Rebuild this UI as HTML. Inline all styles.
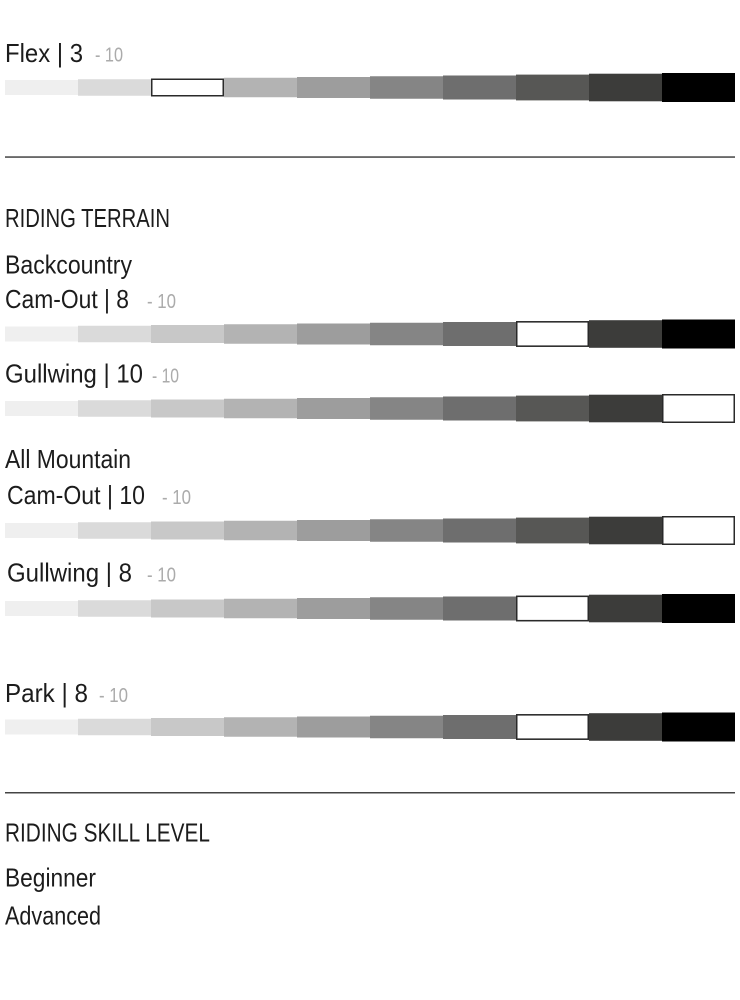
<!DOCTYPE html>
<html>
<head>
<meta charset="utf-8">
<style>
html,body{margin:0;padding:0;background:#fff;}
svg{display:block;}
text{font-family:"Liberation Sans",sans-serif;}
.t{font-size:26px;fill:#1c1c1c;}
.g{font-size:20px;fill:#ababab;}
</style>
</head>
<body>
<svg width="740" height="1000" viewBox="0 0 740 1000" xmlns="http://www.w3.org/2000/svg">
<rect width="740" height="1000" fill="#fff"/>

<defs>
<g id="bar">
  <rect x="5"   y="-7.5"  width="73" height="15"   fill="#efefef"/>
  <rect x="78"  y="-8.25" width="73" height="16.5" fill="#dadada"/>
  <rect x="151" y="-9"    width="73" height="18"   fill="#c8c8c8"/>
  <rect x="224" y="-9.75" width="73" height="19.5" fill="#b3b3b3"/>
  <rect x="297" y="-10.5" width="73" height="21"   fill="#9d9d9d"/>
  <rect x="370" y="-11.25" width="73" height="22.5" fill="#858585"/>
  <rect x="443" y="-12"   width="73" height="24"   fill="#6e6e6e"/>
  <rect x="516" y="-12.9" width="73" height="25.8" fill="#575755"/>
  <rect x="589" y="-13.8" width="73" height="27.6" fill="#3c3c3a"/>
  <rect x="662" y="-14.5" width="73" height="29"   fill="#000"/>
</g>
</defs>

<!-- Flex -->
<text class="t" x="5" y="62" textLength="78" lengthAdjust="spacingAndGlyphs">Flex | 3</text>
<text class="g" x="95" y="61.5" textLength="28" lengthAdjust="spacingAndGlyphs">- 10</text>
<g transform="translate(0,87.5)">
  <use href="#bar"/>
  <rect x="151.75" y="-8.25" width="71.5" height="16.5" fill="#fff" stroke="#2a2a2a" stroke-width="1.5"/>
</g>

<rect x="5" y="156.3" width="730" height="1.5" fill="#444"/>

<text class="t" x="5" y="227" textLength="165" lengthAdjust="spacingAndGlyphs">RIDING TERRAIN</text>

<text class="t" x="5" y="273.5" textLength="127" lengthAdjust="spacingAndGlyphs">Backcountry</text>
<text class="t" x="5" y="308" textLength="124" lengthAdjust="spacingAndGlyphs">Cam-Out | 8</text>
<text class="g" x="147" y="308" textLength="29" lengthAdjust="spacingAndGlyphs">- 10</text>
<g transform="translate(0,334)">
  <use href="#bar"/>
  <rect x="516.75" y="-12.15" width="71.5" height="24.3" fill="#fff" stroke="#2a2a2a" stroke-width="1.5"/>
</g>

<text class="t" x="5" y="382.5" textLength="138" lengthAdjust="spacingAndGlyphs">Gullwing | 10</text>
<text class="g" x="152" y="382.5" textLength="27" lengthAdjust="spacingAndGlyphs">- 10</text>
<g transform="translate(0,408.5)">
  <use href="#bar"/>
  <rect x="662.75" y="-13.75" width="71.5" height="27.5" fill="#fff" stroke="#2a2a2a" stroke-width="1.5"/>
</g>

<text class="t" x="5" y="468" textLength="126" lengthAdjust="spacingAndGlyphs">All Mountain</text>
<text class="t" x="7" y="504" textLength="138" lengthAdjust="spacingAndGlyphs">Cam-Out | 10</text>
<text class="g" x="162" y="504" textLength="29" lengthAdjust="spacingAndGlyphs">- 10</text>
<g transform="translate(0,530.5)">
  <use href="#bar"/>
  <rect x="662.75" y="-13.75" width="71.5" height="27.5" fill="#fff" stroke="#2a2a2a" stroke-width="1.5"/>
</g>

<text class="t" x="7" y="581.5" textLength="125" lengthAdjust="spacingAndGlyphs">Gullwing | 8</text>
<text class="g" x="147" y="581.5" textLength="29" lengthAdjust="spacingAndGlyphs">- 10</text>
<g transform="translate(0,608.5)">
  <use href="#bar"/>
  <rect x="516.75" y="-12.15" width="71.5" height="24.3" fill="#fff" stroke="#2a2a2a" stroke-width="1.5"/>
</g>

<text class="t" x="5" y="702" textLength="83" lengthAdjust="spacingAndGlyphs">Park | 8</text>
<text class="g" x="99" y="702" textLength="29" lengthAdjust="spacingAndGlyphs">- 10</text>
<g transform="translate(0,727)">
  <use href="#bar"/>
  <rect x="516.75" y="-12.15" width="71.5" height="24.3" fill="#fff" stroke="#2a2a2a" stroke-width="1.5"/>
</g>

<rect x="5" y="792" width="730" height="1.5" fill="#444"/>

<text class="t" x="5" y="841.5" textLength="205" lengthAdjust="spacingAndGlyphs">RIDING SKILL LEVEL</text>
<text class="t" x="5" y="886.5" textLength="91" lengthAdjust="spacingAndGlyphs">Beginner</text>
<text class="t" x="5" y="924.5" textLength="96" lengthAdjust="spacingAndGlyphs">Advanced</text>
</svg>
</body>
</html>
